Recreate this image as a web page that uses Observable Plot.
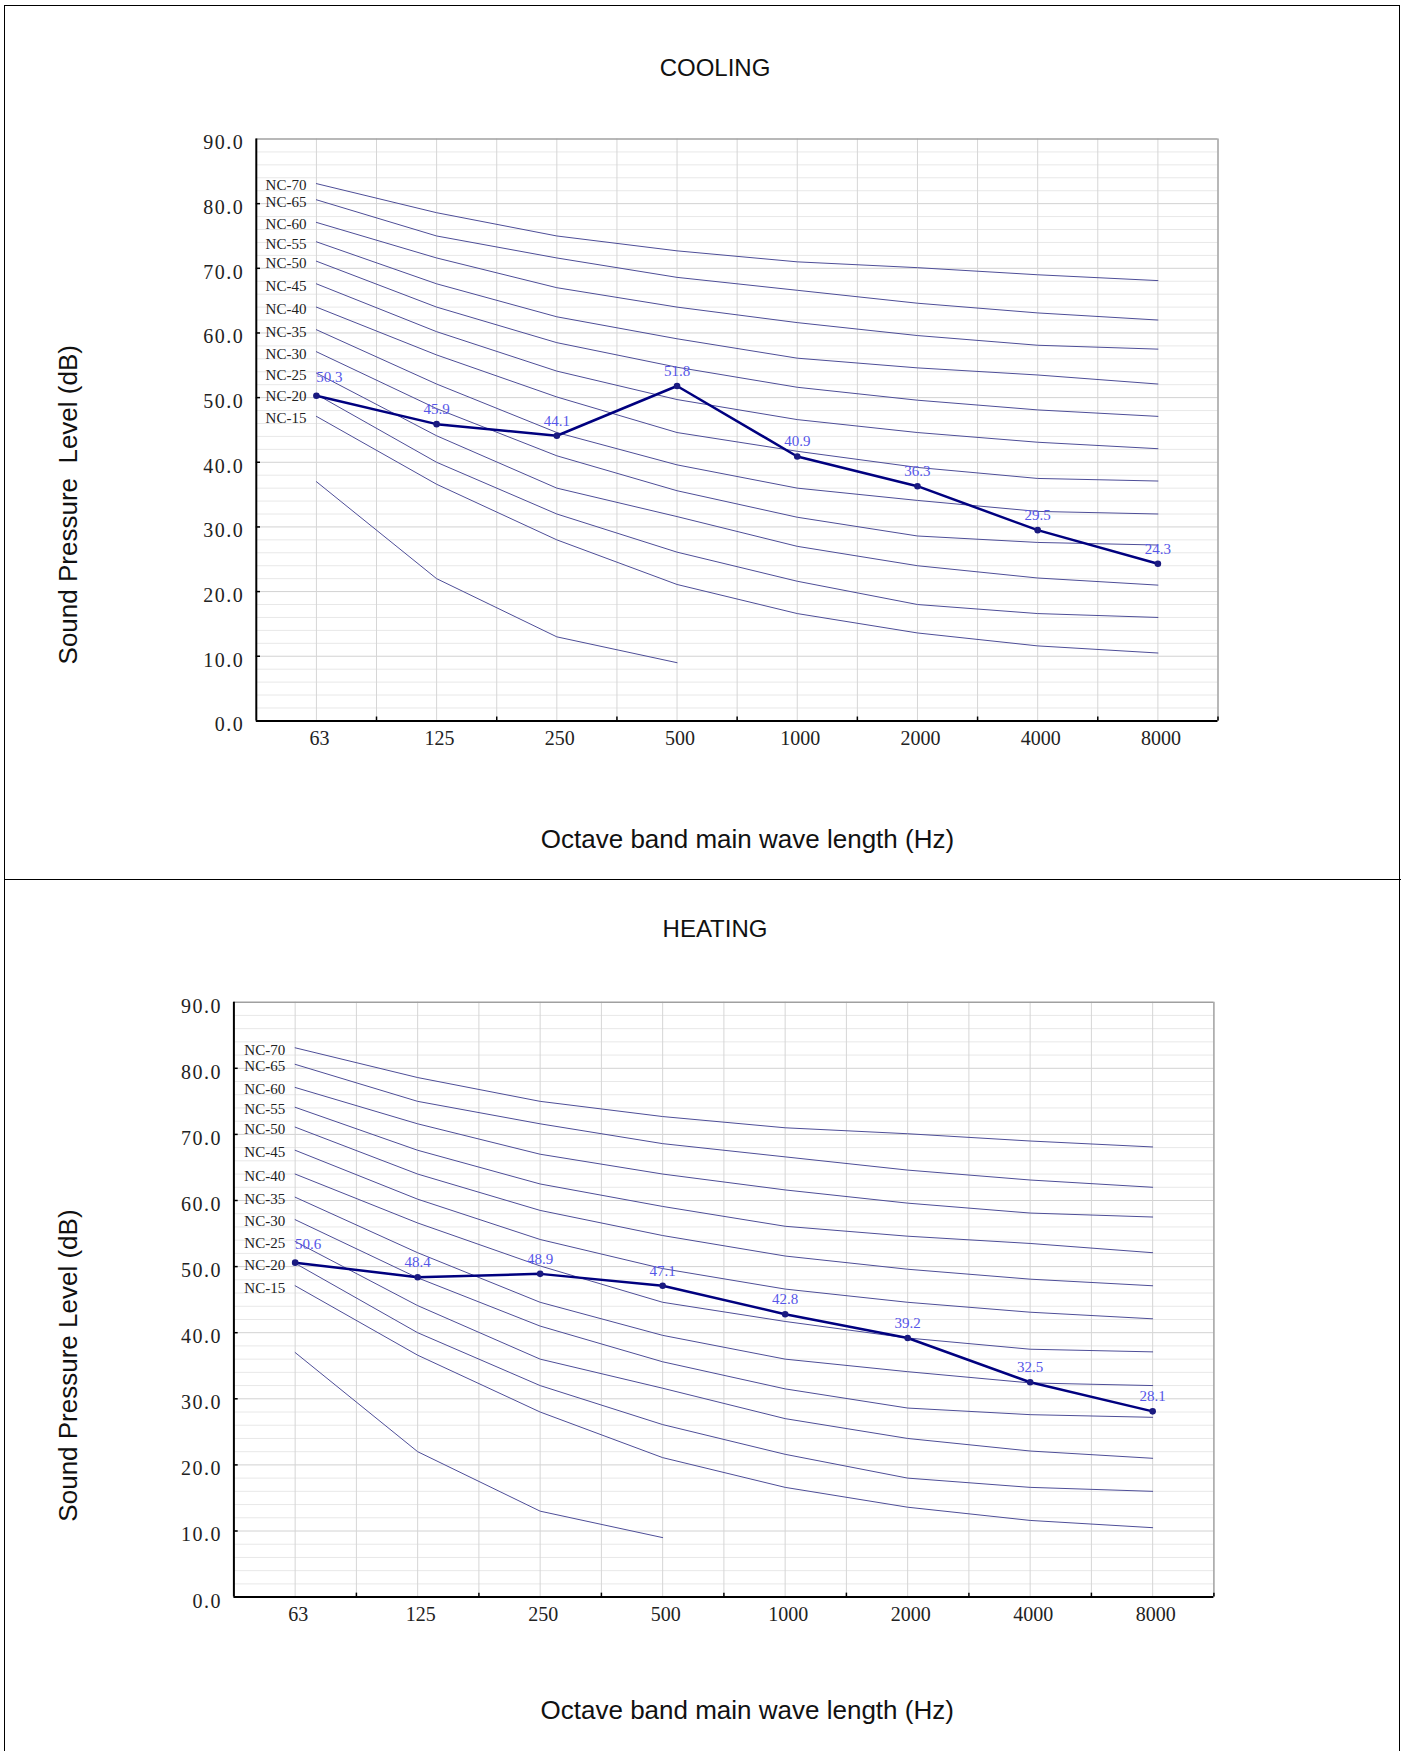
<!DOCTYPE html>
<html><head><meta charset="utf-8">
<script src="https://cdn.jsdelivr.net/npm/d3@7"></script>
<script src="https://cdn.jsdelivr.net/npm/@observablehq/plot@0.6"></script>
<style>
html,body{margin:0;padding:0;background:#fff;}
#page{position:relative;width:1404px;height:1751px;overflow:hidden;background:#fff;}
.box{position:absolute;left:4px;top:5px;width:1394px;height:1800px;border:1.5px solid #000;}
.divider{position:absolute;left:4px;top:879px;width:1397px;height:0;border-top:1.5px solid #000;}
.title{position:absolute;left:0;width:1430px;text-align:center;font-family:"Liberation Sans",Arial,sans-serif;font-size:24px;line-height:24px;color:#111;}
.chart{position:absolute;left:0;}
svg text{white-space:pre;}
[aria-label="y-axis tick label"] text{letter-spacing:1.5px;}
</style></head><body>
<div id="page">
 <div class="box"></div>
 <div class="divider"></div>
 <div class="title" style="top:56px">COOLING</div>
 <div class="chart" id="c1" style="top:100px"></div>
 <div class="title" style="top:917px">HEATING</div>
 <div class="chart" id="c2" style="top:960px"></div>
</div>
<script>
const bands = ["63", "125", "250", "500", "1000", "2000", "4000", "8000"];
const yTicks = [0, 10, 20, 30, 40, 50, 60, 70, 80, 90];
const coolingValues = [50.3, 45.9, 44.1, 51.8, 40.9, 36.3, 29.5, 24.3];
const heatingValues = [50.6, 48.4, 48.9, 47.1, 42.8, 39.2, 32.5, 28.1];

const ncNames = ["NC-70", "NC-65", "NC-60", "NC-55", "NC-50", "NC-45", "NC-40", "NC-35", "NC-30", "NC-25", "NC-20", "NC-15"];
const nc70 = [83.1, 78.6, 75.0, 72.7, 71.0, 70.1, 69.0, 68.1];
const nc65 = [80.6, 75.0, 71.6, 68.6, 66.6, 64.6, 63.1, 62.0];
const nc60 = [77.1, 71.6, 67.0, 64.0, 61.6, 59.6, 58.1, 57.5];
const nc55 = [74.1, 67.6, 62.5, 59.1, 56.1, 54.6, 53.5, 52.1];
const nc50 = [71.1, 64.0, 58.5, 54.7, 51.6, 49.6, 48.1, 47.1];
const nc45 = [67.6, 60.2, 54.1, 49.7, 46.6, 44.6, 43.1, 42.1];
const nc40 = [64.0, 56.6, 50.1, 44.6, 41.7, 39.2, 37.5, 37.1];
const nc35 = [60.5, 52.1, 44.6, 39.6, 36.0, 34.1, 32.4, 32.0];
const nc30 = [57.1, 48.3, 41.0, 35.6, 31.5, 28.6, 27.6, 27.2];
const nc25 = [53.8, 44.1, 36.0, 31.6, 27.0, 24.0, 22.1, 21.0];
const nc20 = [50.5, 40.0, 32.0, 26.1, 21.6, 18.0, 16.6, 16.0];
const nc15 = [47.1, 36.6, 28.0, 21.1, 16.6, 13.6, 11.6, 10.5];
const ncExtra = [37.0, 22.0, 13.0, 9.0];

const ncSeries = [nc70, nc65, nc60, nc55, nc50, nc45, nc40, nc35, nc30, nc25, nc20, nc15];
const ncRows = [];
ncSeries.forEach((arr, k) => arr.forEach((v, i) => ncRows.push({name: ncNames[k], i, v})));
ncExtra.forEach((v, i) => ncRows.push({name: "", i, v}));
const ncStarts = ncRows.filter(d => d.i === 0 && d.name !== "");

const serif = '"Liberation Serif", "Times New Roman", serif';
const sans = '"Liberation Sans", Arial, sans-serif';

function makeChart(o) {
  const rows = o.values.map((v, i) => ({i, v}));
  const gridX = d3.range(0, 7.5, 0.5);
  const halfTicks = d3.range(0.5, 8, 1);
  const minorY = d3.range(2, 90, 2).filter(v => v % 10 !== 0);
  return Plot.plot({
    width: 1404, height: o.height,
    marginTop: o.mt, marginBottom: o.mb, marginLeft: o.ml, marginRight: o.mr,
    x: {type: "linear", domain: [-0.5, 7.5]},
    y: {type: "linear", domain: [0, 90]},
    style: {fontFamily: serif, background: "transparent", overflow: "visible", color: "#222"},
    marks: [
      Plot.ruleY(minorY, {stroke: "#e8e8e8", strokeWidth: 1}),
      Plot.ruleY(yTicks.slice(1, -1), {stroke: "#d2d2d2", strokeWidth: 1}),
      Plot.ruleX(gridX, {stroke: "#d6d6d6", strokeWidth: 1}),
      Plot.line(ncRows, {x: "i", y: "v", z: "name", stroke: "#4e4e98", strokeWidth: 1}),
      Plot.text(ncStarts, {x: "i", y: "v", text: "name", textAnchor: "end", dx: -10, dy: 2, fontSize: 15, fontFamily: serif, fill: "#222"}),
      Plot.line(rows, {x: "i", y: "v", stroke: "#00007f", strokeWidth: 2.5}),
      Plot.dot(rows, {x: "i", y: "v", r: 3.3, fill: "#1a1a80", stroke: null}),
      Plot.text(rows.slice(1), {x: "i", y: "v", text: d => d.v.toFixed(1), dy: -15, fontSize: 15, fontFamily: serif, fill: "#5656e8"}),
      Plot.text(rows.slice(0, 1), {x: "i", y: "v", text: d => d.v.toFixed(1), dx: 13, dy: -18, fontSize: 15, fontFamily: serif, fill: "#5656e8"}),
      Plot.ruleY([90], {stroke: "#a0a0a0", strokeWidth: 1.5}),
      Plot.ruleX([7.5], {stroke: "#a0a0a0", strokeWidth: 1.5}),
      Plot.ruleX(halfTicks, {y1: 0, y2: 0.6, stroke: "#000", strokeWidth: 1.5}),
      Plot.ruleY(yTicks.slice(1, -1), {x1: -0.5, x2: -0.465, stroke: "#000", strokeWidth: 1.5}),
      Plot.ruleX([-0.5], {stroke: "#000", strokeWidth: 2}),
      Plot.ruleY([0], {stroke: "#000", strokeWidth: 2}),
      Plot.axisY(yTicks, {tickSize: 0, tickPadding: 12, tickFormat: d => d.toFixed(1), fontSize: 20, fontFamily: serif, dy: 4, label: null}),
      Plot.axisX(d3.range(8), {tickSize: 0, tickPadding: 10, tickFormat: i => bands[i], fontSize: 20, fontFamily: serif, dx: 3, label: null}),
      Plot.text([o.yTitle], {text: d => d, frameAnchor: "left", textAnchor: "middle", lineAnchor: "middle", rotate: -90, dx: o.ytDx, dy: o.ytDy, fontSize: 26, fontFamily: sans, fill: "#111"}),
      Plot.text(["Octave band main wave length (Hz)"], {text: d => d, frameAnchor: "bottom", textAnchor: "middle", lineAnchor: "middle", dx: o.xtDx, dy: o.xtDy, fontSize: 26, fontFamily: sans, fill: "#111"})
    ]
  });
}

document.getElementById("c1").appendChild(makeChart({
  values: coolingValues, height: 770, mt: 38.5, mb: 149.6, ml: 255.8, mr: 186.5,
  yTitle: "Sound Pressure  Level (dB)", ytDx: -187.8, ytDy: 74.8, xtDx: 10.3, xtDy: 118.6
}));
document.getElementById("c2").appendChild(makeChart({
  values: heatingValues, height: 791, mt: 41.7, mb: 154.4, ml: 233.4, mr: 190.6,
  yTitle: "Sound Pressure Level (dB)", ytDx: -165.4, ytDy: 65.9, xtDx: 23.3, xtDy: 113.4
}));
</script>
</body></html>
